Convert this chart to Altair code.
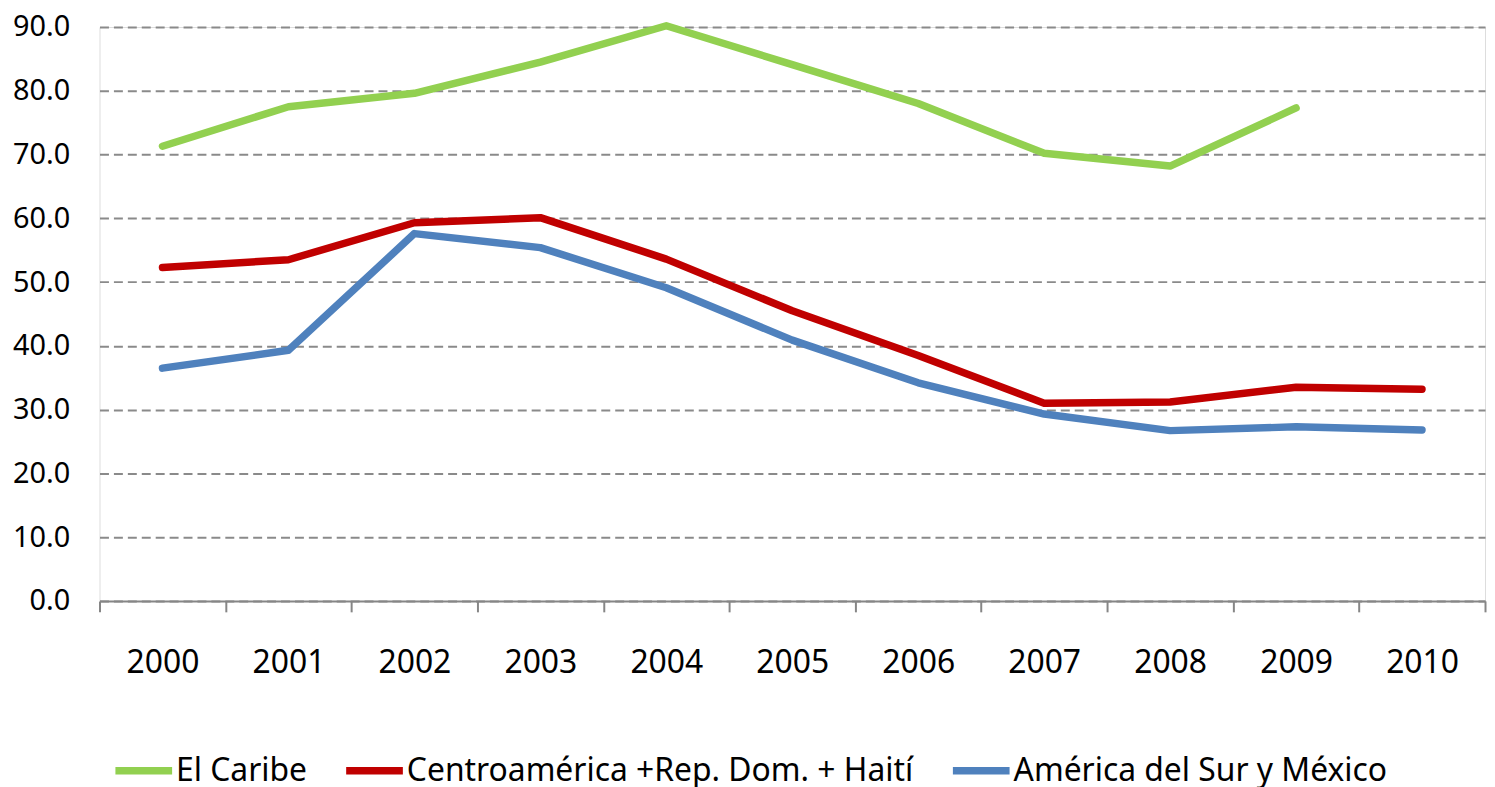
import altair as alt
import pandas as pd

years = ["2000", "2001", "2002", "2003", "2004", "2005", "2006", "2007", "2008", "2009", "2010"]
series_names = ["El Caribe", "Centroamérica +Rep. Dom. + Haití", "América del Sur y México"]
series_colors = ["#92D050", "#C00000", "#4F81BD"]

caribe = [71.3, 77.5, 79.6, 84.5, 90.2, 84.1, 78.0, 70.2, 68.2, 77.3]  # no 2010 value
centro = [52.3, 53.5, 59.3, 60.1, 53.6, 45.5, 38.5, 31.0, 31.2, 33.5, 33.2]
sur = [36.5, 39.3, 57.6, 55.4, 49.1, 40.9, 34.2, 29.3, 26.7, 27.3, 26.8]

y_ticks = [0, 10, 20, 30, 40, 50, 60, 70, 80, 90]

rows = []
for name, vals in zip(series_names, [caribe, centro, sur]):
    for i, v in enumerate(vals):
        rows.append({"year": years[i], "serie": name, "valor": v, "orden": series_names.index(name)})
df = pd.DataFrame(rows)

FONT = "Noto Sans"

chart = alt.Chart(df).mark_line(
    strokeWidth=7.5, strokeCap="round", strokeJoin="round"
).encode(
    x=alt.X(
        "year:O",
        sort=years,
        scale=alt.Scale(type="band", domain=years, paddingInner=0, paddingOuter=0),
        bandPosition=0.5,
        axis=alt.Axis(
            title=None,
            labelAngle=0,
            labelFontSize=32,
            labelFont=FONT,
            labelColor="#000000",
            labelPadding=36,
            tickBand="extent",
            tickSize=11,
            tickColor="#868686",
            tickWidth=2,
            domainColor="#868686",
            domainWidth=2,
            grid=False,
        ),
    ),
    y=alt.Y(
        "valor:Q",
        scale=alt.Scale(domain=[0, 90], nice=False, zero=True),
        axis=alt.Axis(
            title=None,
            values=y_ticks,
            format=".1f",
            labelFontSize=29,
            labelFont=FONT,
            labelColor="#000000",
            labelPadding=30,
            ticks=False,
            domain=False,
            grid=True,
            gridColor="#8a8a8a",
            gridWidth=2,
            gridDash=[9, 5],
        ),
    ),
    color=alt.Color(
        "serie:N",
        scale=alt.Scale(domain=series_names, range=series_colors),
        legend=alt.Legend(
            title=None,
            orient="none",
            direction="horizontal",
            legendX=12,
            legendY=715,
            symbolType="stroke",
            symbolSize=3249,
            symbolStrokeWidth=7.5,
            labelFontSize=32,
            labelFont=FONT,
            labelColor="#000000",
            labelOffset=0,
            columnPadding=24,
            padding=0,
            labelLimit=800,
        ),
    ),
    order="orden:Q",
).properties(
    width=1393,
    height=577,
    autosize=alt.AutoSizeParams(type="none"),
    padding={"left": 92, "top": 17, "right": 2, "bottom": 185},
).configure_view(
    stroke=None
).configure(
    background="#ffffff"
)

chart.save("out.html", embed_options={"renderer": "svg", "actions": False})
